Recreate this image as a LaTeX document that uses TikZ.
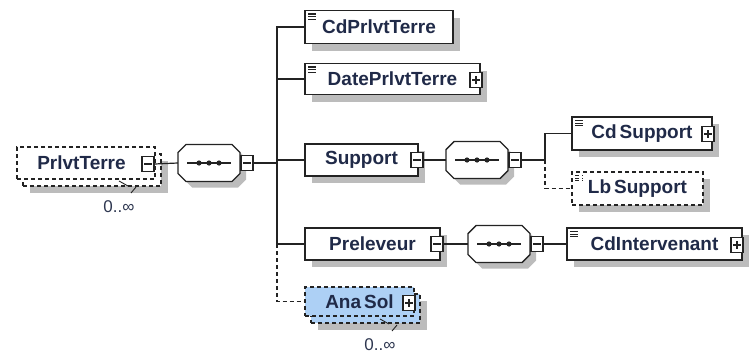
\documentclass[tikz,border=0pt]{standalone}
\usepackage{fontspec}
\setmainfont{Liberation Sans}
\usetikzlibrary{calc}
\definecolor{txt}{RGB}{32,42,72}
\definecolor{brd}{RGB}{35,35,35}
\definecolor{shadowgrey}{RGB}{188,188,188}
\definecolor{anafill}{RGB}{173,208,245}
\tikzset{
  elem/.style={draw=brd, line width=1.4pt, fill=white, inner sep=0pt, rectangle,
     font=\fontsize{19}{22}\selectfont\bfseries, text=txt},
  optional/.style={dash pattern=on 4pt off 3pt},
  simpletype/.style={path picture={
     \foreach \k in {0,2.6,5.2}{\draw[line width=1.1pt,brd] ($(path picture bounding box.north west)+(3pt,-3.5pt-\k pt)$) -- ++(8pt,0pt);}}},
  tog/.style={draw=brd, line width=1.2pt, fill=white, rectangle, inner sep=0pt, minimum width=12pt, minimum height=15pt},
  togminus/.style={tog, path picture={\draw[line width=1.1pt,brd] ($(path picture bounding box.center)+(-3.8pt,0pt)$) -- ++(7.6pt,0pt);}},
  togplus/.style={tog, path picture={\draw[line width=1.1pt,brd] ($(path picture bounding box.center)+(-3.8pt,0pt)$) -- ++(7.6pt,0pt); \draw[line width=1.1pt,brd] ($(path picture bounding box.center)+(0pt,-3.8pt)$) -- ++(0pt,7.6pt);}},
  conn/.style={draw=brd, line width=1.2pt},
  occ/.style={font=\fontsize{17}{20}\selectfont, text=txt!85!gray, inner sep=0pt},
  tick/.style={draw=brd, line width=0.9pt},
  shadowfill/.style={fill=shadowgrey},
  seqpic/.pic={
    \draw[brd, line width=1.4pt, fill=white] (-23,-18.5) -- (23,-18.5) -- (31,-10.5) -- (31,10.5) -- (23,18.5) -- (-23,18.5) -- (-31,10.5) -- (-31,-10.5) -- cycle;
    \node[inner sep=0pt, minimum width=62pt, minimum height=37pt] (-o) at (0,0) {};
    \draw[brd, line width=1.1pt] (-22,0) -- (22,0);
    \foreach \d in {-10,0,10} \fill[brd] (\d,0) circle (2.6pt);
    \node[togminus] (-t) at (38,0) {};
  }
}
\begin{document}
\begin{tikzpicture}[x=1pt, y=-1pt]
\useasboundingbox (0,0) rectangle (751,356);

% shadows (drawn first)
\path[shadowfill] (30,161) rectangle (168,193);
\path[shadowfill] (312,17.5) rectangle (460,50.5);
\path[shadowfill] (312,70.5) rectangle (487,101.5);
\path[shadowfill] (312,151) rectangle (425,183);
\path[shadowfill] (579,124) rectangle (719,157);
\path[shadowfill] (579,179) rectangle (710,212);
\path[shadowfill] (312,235) rectangle (447,267);
\path[shadowfill] (574,235) rectangle (749,267);
\path[shadowfill] (318,301) rectangle (427,330);
\path[shadowfill] (215,169) ++(-23,-18.5) -- ++(46,0) -- ++(8,8) -- ++(0,21) -- ++(-8,8) -- ++(-46,0) -- ++(-8,-8) -- ++(0,-21) -- cycle;
\path[shadowfill] (483,166) ++(-23,-18.5) -- ++(46,0) -- ++(8,8) -- ++(0,21) -- ++(-8,8) -- ++(-46,0) -- ++(-8,-8) -- ++(0,-21) -- cycle;
\path[shadowfill] (505,250) ++(-23,-18.5) -- ++(46,0) -- ++(8,8) -- ++(0,21) -- ++(-8,8) -- ++(-46,0) -- ++(-8,-8) -- ++(0,-21) -- cycle;

% root element PrlvtTerre (multiple, optional)
\node[elem, optional, minimum width=138pt, minimum height=32pt] (prlback) at (92,170) {};
\node[elem, optional, minimum width=138pt, minimum height=32pt] (prl) at (86,163) {\hspace*{-9pt}PrlvtTerre};
\node[togminus] (prlt) at (148,164) {};
\draw[tick] (119,181) -- (128,186);
\draw[tick] (136,187) -- (131,193);
\node[occ] (occ1) at (119,207) {0..∞};

% main sequence
\pic (s1) at (209,163) {seqpic};
\coordinate (b0) at (277,163);

% children
\node[elem, simpletype, minimum width=148pt, minimum height=33pt] (cd1) at (379,27) {CdPrlvtTerre};
\node[elem, simpletype, minimum width=175pt, minimum height=31pt] (date) at (392.5,79) {DatePrlvtTerre};
\node[togplus] (datet) at (476,80) {};

\node[elem, minimum width=113pt, minimum height=32pt] (sup) at (361.5,160) {Support};
\node[togminus] (supt) at (417,160) {};
\pic (s2) at (477,160) {seqpic};
\coordinate (b2) at (545,160);
\node[elem, simpletype, minimum width=140pt, minimum height=33pt] (cdsup) at (642,133.5) {Cd\kern3pt Support};
\node[togplus] (cdsupt) at (708,134) {};
\node[elem, simpletype, optional, minimum width=131pt, minimum height=33pt] (lbsup) at (637.5,188.5) {Lb\kern3pt Support};

\node[elem, minimum width=135pt, minimum height=32pt] (prel) at (372.5,244) {Preleveur};
\node[togminus] (prelt) at (437,244) {};
\pic (s3) at (499,244) {seqpic};
\node[elem, simpletype, minimum width=175pt, minimum height=32pt] (cdint) at (654.5,244) {CdIntervenant};
\node[togplus] (cdintt) at (737,245) {};

% AnaSol (multiple, optional)
\node[elem, optional, fill=anafill, minimum width=109pt, minimum height=29pt] (anaback) at (365.5,308.5) {};
\node[elem, optional, fill=anafill, minimum width=109pt, minimum height=29pt] (ana) at (359.5,301.5) {Ana\kern3pt Sol};
\node[togplus] (anat) at (409,303) {};
\draw[tick] (380,319) -- (389,324);
\draw[tick] (397,325) -- (392,331);
\node[occ] (occ2) at (380,345) {0..∞};

% connectors
\draw[conn] (prlt.east) -- (s1-o.west);
\draw[conn] (s1-t.east) -- (b0);
\draw[conn] (b0) |- (cd1.west);
\draw[conn] (b0) |- (date.west);
\draw[conn] (b0) |- (sup.west);
\draw[conn] (b0) |- (prel.west);
\draw[conn, optional] (b0 |- prel.west) |- (ana.west);

\draw[conn] (supt.east) -- (s2-o.west);
\draw[conn] (s2-t.east) -- (b2);
\draw[conn] (b2) |- (cdsup.west);
\draw[conn, optional] (b2) |- (lbsup.west);

\draw[conn] (prelt.east) -- (s3-o.west);
\draw[conn] (s3-t.east) -- (cdint.west);
\end{tikzpicture}
\end{document}
